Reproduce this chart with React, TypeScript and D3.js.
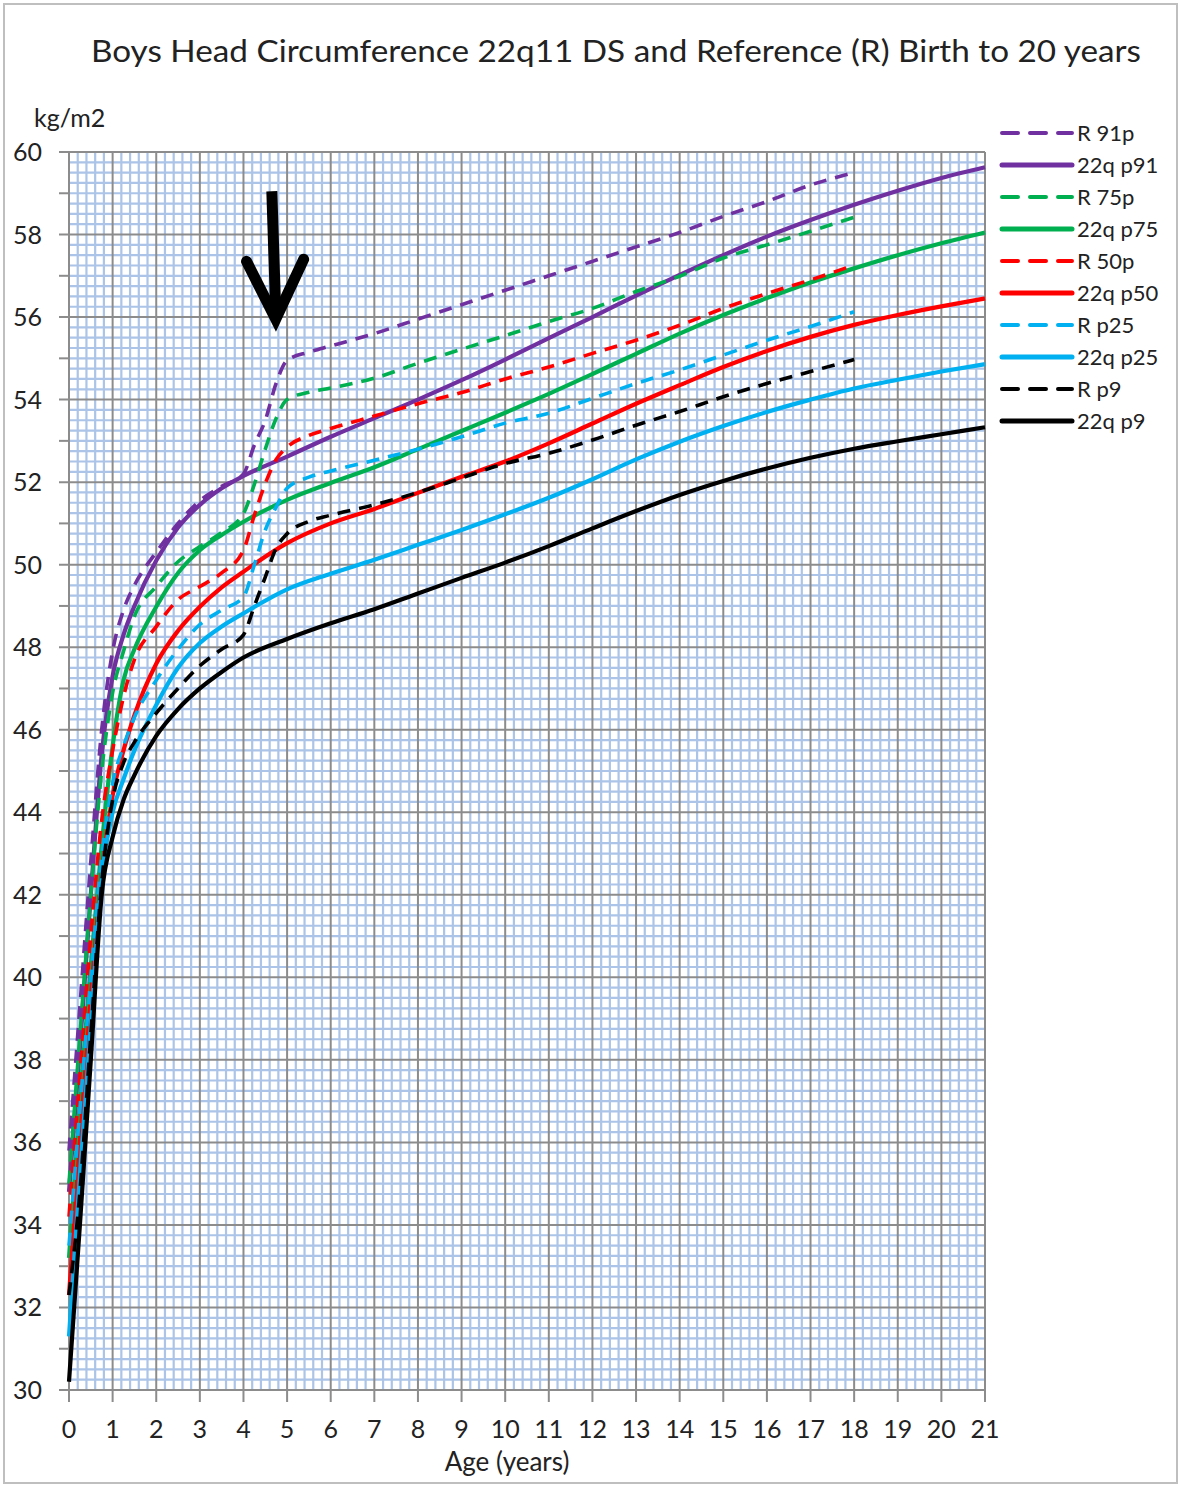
import * as d3 from 'd3';

// ages (years) for the 22q11 DS curves
const AGES_22Q = [0, 0.25, 0.5, 0.75, 1, 1.25, 1.5, 2, 2.5, 3, 3.5, 4, 5, 6, 7, 8, 9, 10, 11, 12, 13, 14, 15, 16, 17, 18, 19, 20, 21];
const P91_22Q = [34.8, 38.3, 42.0, 45.4, 47.3, 48.3, 49.0, 50.1, 50.9, 51.45, 51.85, 52.15, 52.62, 53.1, 53.55, 54.0, 54.47, 54.97, 55.49, 56.0, 56.52, 57.02, 57.5, 57.95, 58.35, 58.72, 59.06, 59.37, 59.63];
const P75_22Q = [33.2, 37.0, 40.3, 43.2, 45.6, 47.2, 47.95, 48.98, 49.8, 50.35, 50.72, 51.04, 51.57, 51.98, 52.36, 52.8, 53.24, 53.68, 54.14, 54.62, 55.11, 55.6, 56.05, 56.46, 56.84, 57.18, 57.5, 57.79, 58.05];
const P50_22Q = [32.3, 36.0, 39.5, 42.5, 44.4, 45.5, 46.35, 47.6, 48.4, 48.98, 49.45, 49.83, 50.52, 51.0, 51.35, 51.74, 52.13, 52.5, 52.94, 53.42, 53.9, 54.35, 54.79, 55.18, 55.52, 55.81, 56.05, 56.26, 56.45];
const P25_22Q = [31.3, 35.2, 38.8, 42.4, 44.0, 44.8, 45.5, 46.6, 47.5, 48.1, 48.5, 48.82, 49.4, 49.78, 50.12, 50.48, 50.84, 51.22, 51.62, 52.07, 52.55, 52.98, 53.36, 53.7, 54.0, 54.27, 54.48, 54.68, 54.86];
const P9_22Q = [30.2, 34.0, 38.0, 42.0, 43.4, 44.3, 44.9, 45.85, 46.5, 47.0, 47.4, 47.75, 48.2, 48.58, 48.92, 49.3, 49.68, 50.05, 50.45, 50.88, 51.3, 51.69, 52.03, 52.33, 52.59, 52.81, 52.99, 53.16, 53.33];

// ages (years) for the reference curves
const AGES_REF = [0, 0.25, 0.5, 0.75, 1, 1.25, 1.5, 2, 2.5, 3, 3.5, 4, 4.25, 4.5, 4.75, 5, 5.5, 6, 7, 8, 9, 10, 11, 12, 13, 14, 15, 16, 17, 18];
const R91 = [35.8, 39.3, 42.8, 46.0, 47.9, 48.9, 49.5, 50.3, 51.0, 51.55, 51.9, 52.2, 52.9, 53.5, 54.4, 54.95, 55.15, 55.3, 55.6, 55.95, 56.3, 56.65, 57.0, 57.35, 57.7, 58.05, 58.44, 58.8, 59.2, 59.5];
const R75 = [35.0, 38.6, 42.0, 45.0, 46.9, 47.9, 48.75, 49.47, 50.07, 50.44, 50.78, 51.24, 51.95, 52.8, 53.55, 54.0, 54.18, 54.28, 54.52, 54.88, 55.22, 55.55, 55.89, 56.21, 56.62, 56.99, 57.43, 57.75, 58.08, 58.42];
const R50 = [34.2, 37.6, 41.0, 43.8, 45.5, 46.8, 47.7, 48.5, 49.15, 49.47, 49.8, 50.35, 51.2, 51.97, 52.55, 52.85, 53.13, 53.3, 53.6, 53.9, 54.17, 54.5, 54.79, 55.12, 55.44, 55.8, 56.21, 56.57, 56.9, 57.26];
const R25 = [33.5, 36.8, 40.0, 42.9, 44.7, 45.6, 46.3, 47.2, 47.95, 48.55, 48.9, 49.22, 50.0, 50.84, 51.4, 51.85, 52.12, 52.27, 52.53, 52.8, 53.1, 53.43, 53.67, 54.03, 54.39, 54.72, 55.08, 55.44, 55.77, 56.13];
const R9 = [32.3, 34.8, 38.6, 42.3, 44.3, 45.2, 45.7, 46.4, 47.0, 47.55, 47.95, 48.3, 49.0, 49.7, 50.4, 50.75, 51.05, 51.2, 51.45, 51.75, 52.1, 52.45, 52.7, 53.02, 53.38, 53.71, 54.07, 54.39, 54.68, 54.97];

const SERIES_NAMES = ['R 91p', '22q p91', 'R 75p', '22q p75', 'R 50p', '22q p50', 'R p25', '22q p25', 'R p9', '22q p9'];
const SERIES_VALUES = [R91, P91_22Q, R75, P75_22Q, R50, P50_22Q, R25, P25_22Q, R9, P9_22Q];
const SERIES_COLORS = ['#7030a0', '#7030a0', '#00b050', '#00b050', '#ff0000', '#ff0000', '#00b0f0', '#00b0f0', '#000000', '#000000'];

const X_TICKS = d3.range(0, 22);
const Y_LABELS = d3.range(30, 61, 2);

// arrow annotation, in data units [age, value]
const ARROW_SHAFT = [[4.65, 59.05], [4.74, 56.1]];
const ARROW_HEAD = [[4.07, 57.35], [4.74, 55.95], [5.38, 57.4]];

const W = 1180;
const H = 1485;
const FONT = 'Lato, "Open Sans", sans-serif';
const TEXT = '#222';

export default function App() {
  const x = d3.scaleLinear().domain([0, 21]).range([69, 985]);
  const y = d3.scaleLinear().domain([30, 60]).range([1390, 152]);

  const line = d3.line<[number, number]>()
    .x(d => x(d[0]))
    .y(d => y(d[1]))
    .curve(d3.curveMonotoneX);

  const minorV = d3.range(0, 105).map(i => i * 0.2).filter((_, i) => i % 5 !== 0);
  const minorH = d3.range(0, 121).map(i => 30 + i * 0.25).filter((_, i) => i % 8 !== 0);
  const majorH = d3.range(30, 61, 2);
  const yTicks = d3.range(30, 61, 1);

  const isRef = (i: number) => i % 2 === 0;

  return (
    <svg width={W} height={H} style={{ position: 'absolute', left: 0, top: 0, background: '#fff' }} fontFamily={FONT}>
      <rect x={4} y={4} width={1173} height={1479} fill="#fff" stroke="#bfbfbf" strokeWidth={2} />

      <text x={616} y={62} textAnchor="middle" fontSize={30} fill={TEXT} textLength={1050} lengthAdjust="spacingAndGlyphs">
        Boys Head Circumference 22q11 DS and Reference (R) Birth to 20 years
      </text>

      {/* minor grid */}
      <g stroke="#abc4e7" strokeWidth={2.2}>
        {minorV.map(v => (
          <line key={'mv' + v} x1={x(v)} x2={x(v)} y1={y(60)} y2={y(30)} />
        ))}
        {minorH.map(v => (
          <line key={'mh' + v} x1={x(0)} x2={x(21)} y1={y(v)} y2={y(v)} />
        ))}
      </g>

      {/* major grid */}
      <g stroke="#8c8c8c" strokeWidth={2}>
        {X_TICKS.map(v => (
          <line key={'gv' + v} x1={x(v)} x2={x(v)} y1={y(60)} y2={y(30) + 12} />
        ))}
        {majorH.map(v => (
          <line key={'gh' + v} x1={x(0) - 10} x2={x(21)} y1={y(v)} y2={y(v)} />
        ))}
        {yTicks.filter(v => v % 2 !== 0).map(v => (
          <line key={'yt' + v} x1={x(0) - 10} x2={x(0)} y1={y(v)} y2={y(v)} />
        ))}
      </g>

      {/* y labels */}
      <g fontSize={25} fill={TEXT} textAnchor="end">
        {Y_LABELS.map(v => (
          <text key={'yl' + v} x={42} y={y(v) + 9}>{v}</text>
        ))}
      </g>
      <text x={34} y={127} fontSize={25} fill={TEXT}>kg/m2</text>

      {/* x labels */}
      <g fontSize={25} fill={TEXT} textAnchor="middle">
        {X_TICKS.map(v => (
          <text key={'xl' + v} x={x(v)} y={1438}>{v}</text>
        ))}
      </g>
      <text x={507} y={1471} fontSize={26} fill={TEXT} textAnchor="middle">Age (years)</text>

      {/* series */}
      <g fill="none">
        {SERIES_VALUES.map((vals, i) => {
          const ages = isRef(i) ? AGES_REF : AGES_22Q;
          const pts = ages.map((a, j) => [a, vals[j]] as [number, number]);
          return (
            <path
              key={SERIES_NAMES[i]}
              d={line(pts) || ''}
              stroke={SERIES_COLORS[i]}
              strokeWidth={isRef(i) ? 3.6 : 4.2}
              strokeDasharray={isRef(i) ? '13 9' : undefined}
              strokeLinejoin="round"
            />
          );
        })}
      </g>

      {/* arrow */}
      <g stroke="#000" fill="none" strokeWidth={11}>
        <line x1={x(ARROW_SHAFT[0][0])} y1={y(ARROW_SHAFT[0][1])} x2={x(ARROW_SHAFT[1][0])} y2={y(ARROW_SHAFT[1][1])} />
        <polyline
          points={ARROW_HEAD.map(p => `${x(p[0])},${y(p[1])}`).join(' ')}
          strokeLinecap="round"
          strokeLinejoin="miter"
          strokeMiterlimit={10}
        />
      </g>

      {/* legend */}
      <g>
        {SERIES_NAMES.map((name, i) => {
          const ly = 133 + i * 32;
          return (
            <g key={'lg' + name}>
              <line
                x1={1002}
                x2={1072}
                y1={ly}
                y2={ly}
                stroke={SERIES_COLORS[i]}
                strokeWidth={isRef(i) ? 4 : 5}
                strokeDasharray={isRef(i) ? '16 12' : undefined}
                strokeLinecap="round"
              />
              <text x={1077} y={ly + 8} fontSize={22} fill={TEXT}>{name}</text>
            </g>
          );
        })}
      </g>
    </svg>
  );
}
